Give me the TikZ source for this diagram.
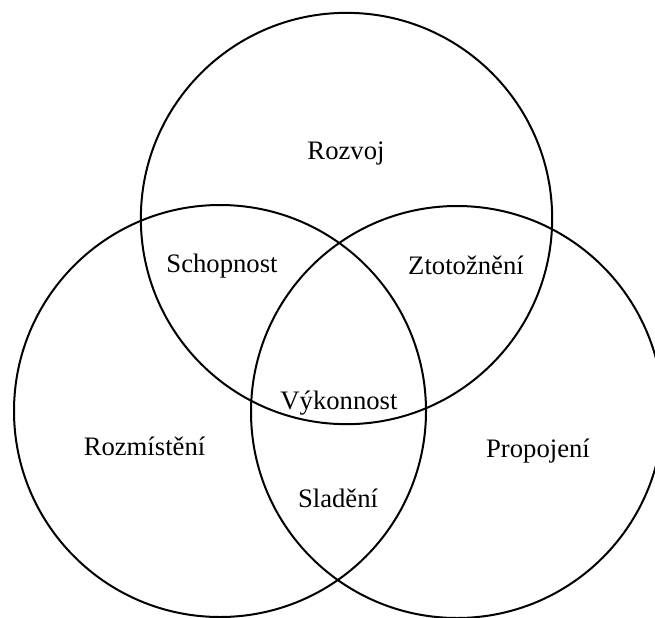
\documentclass[tikz,border=0pt]{standalone}
\usepackage{fontspec}
\setmainfont{Liberation Serif}
\begin{document}
\begin{tikzpicture}[x=0.75pt,y=-0.75pt,
  ring/.style={circle,draw=black,line width=1.5pt,inner sep=0pt,minimum size=#1},
  lbl/.style={anchor=base,inner sep=0pt,font=\fontsize{20}{24}\selectfont}]
\useasboundingbox (0,0) rectangle (655,617);
\begin{scope}
\clip (0,0) rectangle (655,617);
\node[ring=308.5pt] (top) at (346.5,218.5) {};
\node[ring=309pt] (left) at (220,411) {};
\node[ring=309pt] (right) at (457,412) {};
\end{scope}
\node[lbl] (rozvoj) at (346,159) {Rozvoj};
\node[lbl] (schop) at (222,272) {Schopnost};
\node[lbl] (ztot) at (466,274) {Ztotožnění};
\node[lbl] (vyk) at (339,409) {Výkonnost};
\node[lbl] (rozm) at (144.5,455) {Rozmístění};
\node[lbl] (prop) at (538,457) {Propojení};
\node[lbl] (slad) at (338,507) {Sladění};
\end{tikzpicture}
\end{document}
